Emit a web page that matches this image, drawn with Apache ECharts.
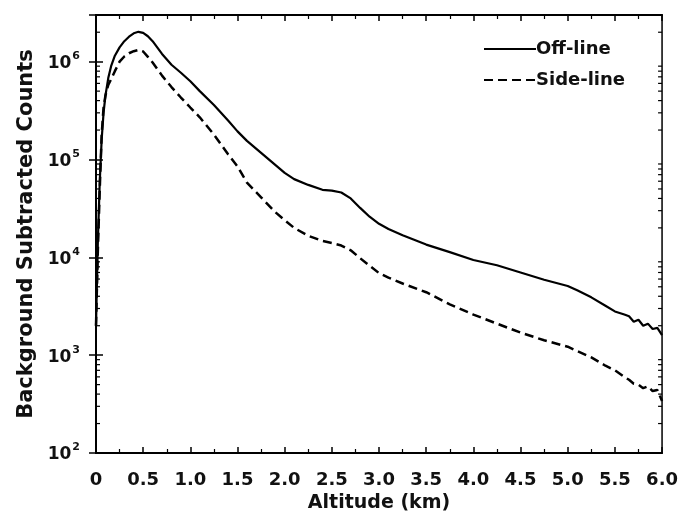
<!DOCTYPE html>
<html><head><meta charset="utf-8">
<script src="https://cdn.jsdelivr.net/npm/echarts@6/dist/echarts.min.js"></script>
<style>html,body{margin:0;padding:0;background:#fff}#c{width:681px;height:518px}</style>
</head><body><div id="c"></div>
<script>
var altitude = [0, 0.02, 0.04, 0.06, 0.08, 0.1, 0.13, 0.16, 0.2, 0.25, 0.3, 0.35, 0.4, 0.45, 0.5, 0.55, 0.6, 0.7, 0.8, 0.9, 1.0, 1.1, 1.25, 1.4, 1.5, 1.6, 1.75, 1.9, 2.0, 2.1, 2.25, 2.4, 2.5, 2.6, 2.7, 2.8, 2.9, 3.0, 3.1, 3.25, 3.5, 3.75, 4.0, 4.25, 4.5, 4.75, 5.0, 5.1, 5.25, 5.4, 5.5, 5.6, 5.65, 5.7, 5.75, 5.8, 5.85, 5.9, 5.95, 6.0];
var offLine = [2e3, 1.5e4, 6e4, 1.6e5, 3.0e5, 4.5e5, 6.8e5, 9.0e5, 1.15e6, 1.4e6, 1.62e6, 1.8e6, 1.95e6, 2.02e6, 1.97e6, 1.82e6, 1.62e6, 1.2e6, 9.3e5, 7.7e5, 6.3e5, 5.0e5, 3.6e5, 2.5e5, 1.94e5, 1.55e5, 1.17e5, 8.8e4, 7.3e4, 6.3e4, 5.5e4, 4.9e4, 4.8e4, 4.6e4, 4.0e4, 3.2e4, 2.6e4, 2.2e4, 1.95e4, 1.68e4, 1.35e4, 1.13e4, 9.4e3, 8.3e3, 7.0e3, 5.9e3, 5.1e3, 4.6e3, 3.9e3, 3.2e3, 2.8e3, 2.6e3, 2.5e3, 2.2e3, 2.3e3, 2.0e3, 2.1e3, 1.85e3, 1.9e3, 1.6e3];
var sideLine = [2e3, 1.2e4, 5e4, 1.8e5, 3.4e5, 4.5e5, 5.8e5, 6.6e5, 8.0e5, 1.0e6, 1.13e6, 1.22e6, 1.28e6, 1.32e6, 1.27e6, 1.12e6, 9.8e5, 7.2e5, 5.5e5, 4.3e5, 3.4e5, 2.7e5, 1.8e5, 1.13e5, 8.5e4, 5.8e4, 4.1e4, 2.9e4, 2.4e4, 2.0e4, 1.66e4, 1.47e4, 1.4e4, 1.32e4, 1.18e4, 9.8e3, 8.2e3, 6.9e3, 6.2e3, 5.4e3, 4.4e3, 3.3e3, 2.6e3, 2.1e3, 1.7e3, 1.42e3, 1.22e3, 1.1e3, 9.5e2, 7.8e2, 7.0e2, 6.0e2, 5.6e2, 5.1e2, 5.0e2, 4.6e2, 4.8e2, 4.3e2, 4.4e2, 3.4e2];
var xTickLabels = ['0', '0.5', '1.0', '1.5', '2.0', '2.5', '3.0', '3.5', '4.0', '4.5', '5.0', '5.5', '6.0'];
var yMinorTicks = [200, 300, 400, 500, 600, 700, 800, 900, 2e3, 3e3, 4e3, 5e3, 6e3, 7e3, 8e3, 9e3, 2e4, 3e4, 4e4, 5e4, 6e4, 7e4, 8e4, 9e4, 2e5, 3e5, 4e5, 5e5, 6e5, 7e5, 8e5, 9e5, 2e6];

var chart = echarts.init(document.getElementById('c'));
var font = 'DejaVu Sans, Liberation Sans, Arial, sans-serif';
function pairs(ys) { return altitude.map(function (x, i) { return [x, ys[i]]; }); }
var xAxisCommon = {
  type: 'value', min: 0, max: 6, interval: 0.5,
  axisLine: { lineStyle: { color: '#000', width: 2 } },
  axisTick: { inside: true, length: 6, lineStyle: { color: '#000', width: 1.5 } },
  minorTick: { show: true, splitNumber: 2, length: 4, lineStyle: { color: '#000', width: 1.2 } },
  splitLine: { show: false }
};
var yAxisCommon = {
  type: 'log', logBase: 10, min: 100, max: 3e6,
  axisLine: { show: true, lineStyle: { color: '#000', width: 2 } },
  axisTick: { inside: true, length: 7, lineStyle: { color: '#000', width: 1.5 } },
  splitLine: { show: false }
};
chart.setOption({
  animation: false,
  grid: { left: 96, right: 18, top: 15, bottom: 65, show: true, borderColor: '#000', borderWidth: 1.5 },
  legend: {
    orient: 'vertical', left: 478, top: 35, itemWidth: 52, itemHeight: 14, itemGap: 13,
    itemStyle: { opacity: 0 },
    textStyle: { fontFamily: font, fontWeight: 'bold', fontSize: 18, color: '#111', padding: [0, 0, 0, -5] },
    data: ['Off-line', 'Side-line']
  },
  xAxis: [
    Object.assign({}, xAxisCommon, {
      position: 'bottom',
      name: 'Altitude (km)', nameLocation: 'middle', nameGap: 40,
      nameTextStyle: { fontFamily: font, fontWeight: 'bold', fontSize: 19, color: '#111' },
      axisLabel: {
        margin: 18, fontFamily: font, fontWeight: 'bold', fontSize: 18, color: '#111',
        formatter: function (v) { return xTickLabels[Math.round(v * 2)]; }
      }
    }),
    Object.assign({}, xAxisCommon, { position: 'top', axisLabel: { show: false } })
  ],
  yAxis: [
    Object.assign({}, yAxisCommon, {
      position: 'left',
      name: 'Background Subtracted Counts', nameLocation: 'middle', nameGap: 56,
      nameTextStyle: { fontFamily: font, fontWeight: 'bold', fontSize: 21, color: '#111' },
      axisLabel: {
        margin: 16, color: '#111',
        formatter: function (v) {
          var e = Math.log10(v);
          if (Math.abs(e - Math.round(e)) > 1e-6) return '';
          return '{b|10}{s|' + Math.round(e) + '}';
        },
        rich: {
          b: { fontFamily: font, fontWeight: 'bold', fontSize: 17, color: '#111', lineHeight: 22, verticalAlign: 'middle', padding: [4, 0, 0, 0] },
          s: { fontFamily: font, fontWeight: 'bold', fontSize: 11, color: '#111', lineHeight: 12, verticalAlign: 'top', padding: [0, 0, 20, 1] }
        }
      }
    }),
    Object.assign({}, yAxisCommon, { position: 'right', axisLabel: { show: false } })
  ],
  series: [
    {
      name: 'Off-line', type: 'line', data: pairs(offLine), showSymbol: false, symbol: 'none',
      lineStyle: { color: '#000', width: 2.2 }, itemStyle: { color: '#000' }
    },
    {
      name: 'Side-line', type: 'line', data: pairs(sideLine), showSymbol: false, symbol: 'none',
      lineStyle: { color: '#000', width: 2.5, type: [9, 5] }, itemStyle: { color: '#000' }
    },
    {
      type: 'custom', silent: true, data: yMinorTicks.map(function (v) { return [0, v]; }),
      renderItem: function (params, api) {
        var p = api.coord([0, api.value(1)]);
        var q = api.coord([6, api.value(1)]);
        return {
          type: 'group', children: [
            { type: 'line', shape: { x1: p[0], y1: p[1], x2: p[0] + 4, y2: p[1] }, style: { stroke: '#000', lineWidth: 1.2 } },
            { type: 'line', shape: { x1: q[0], y1: q[1], x2: q[0] - 4, y2: q[1] }, style: { stroke: '#000', lineWidth: 1.2 } }
          ]
        };
      }
    }
  ]
});
</script></body></html>
